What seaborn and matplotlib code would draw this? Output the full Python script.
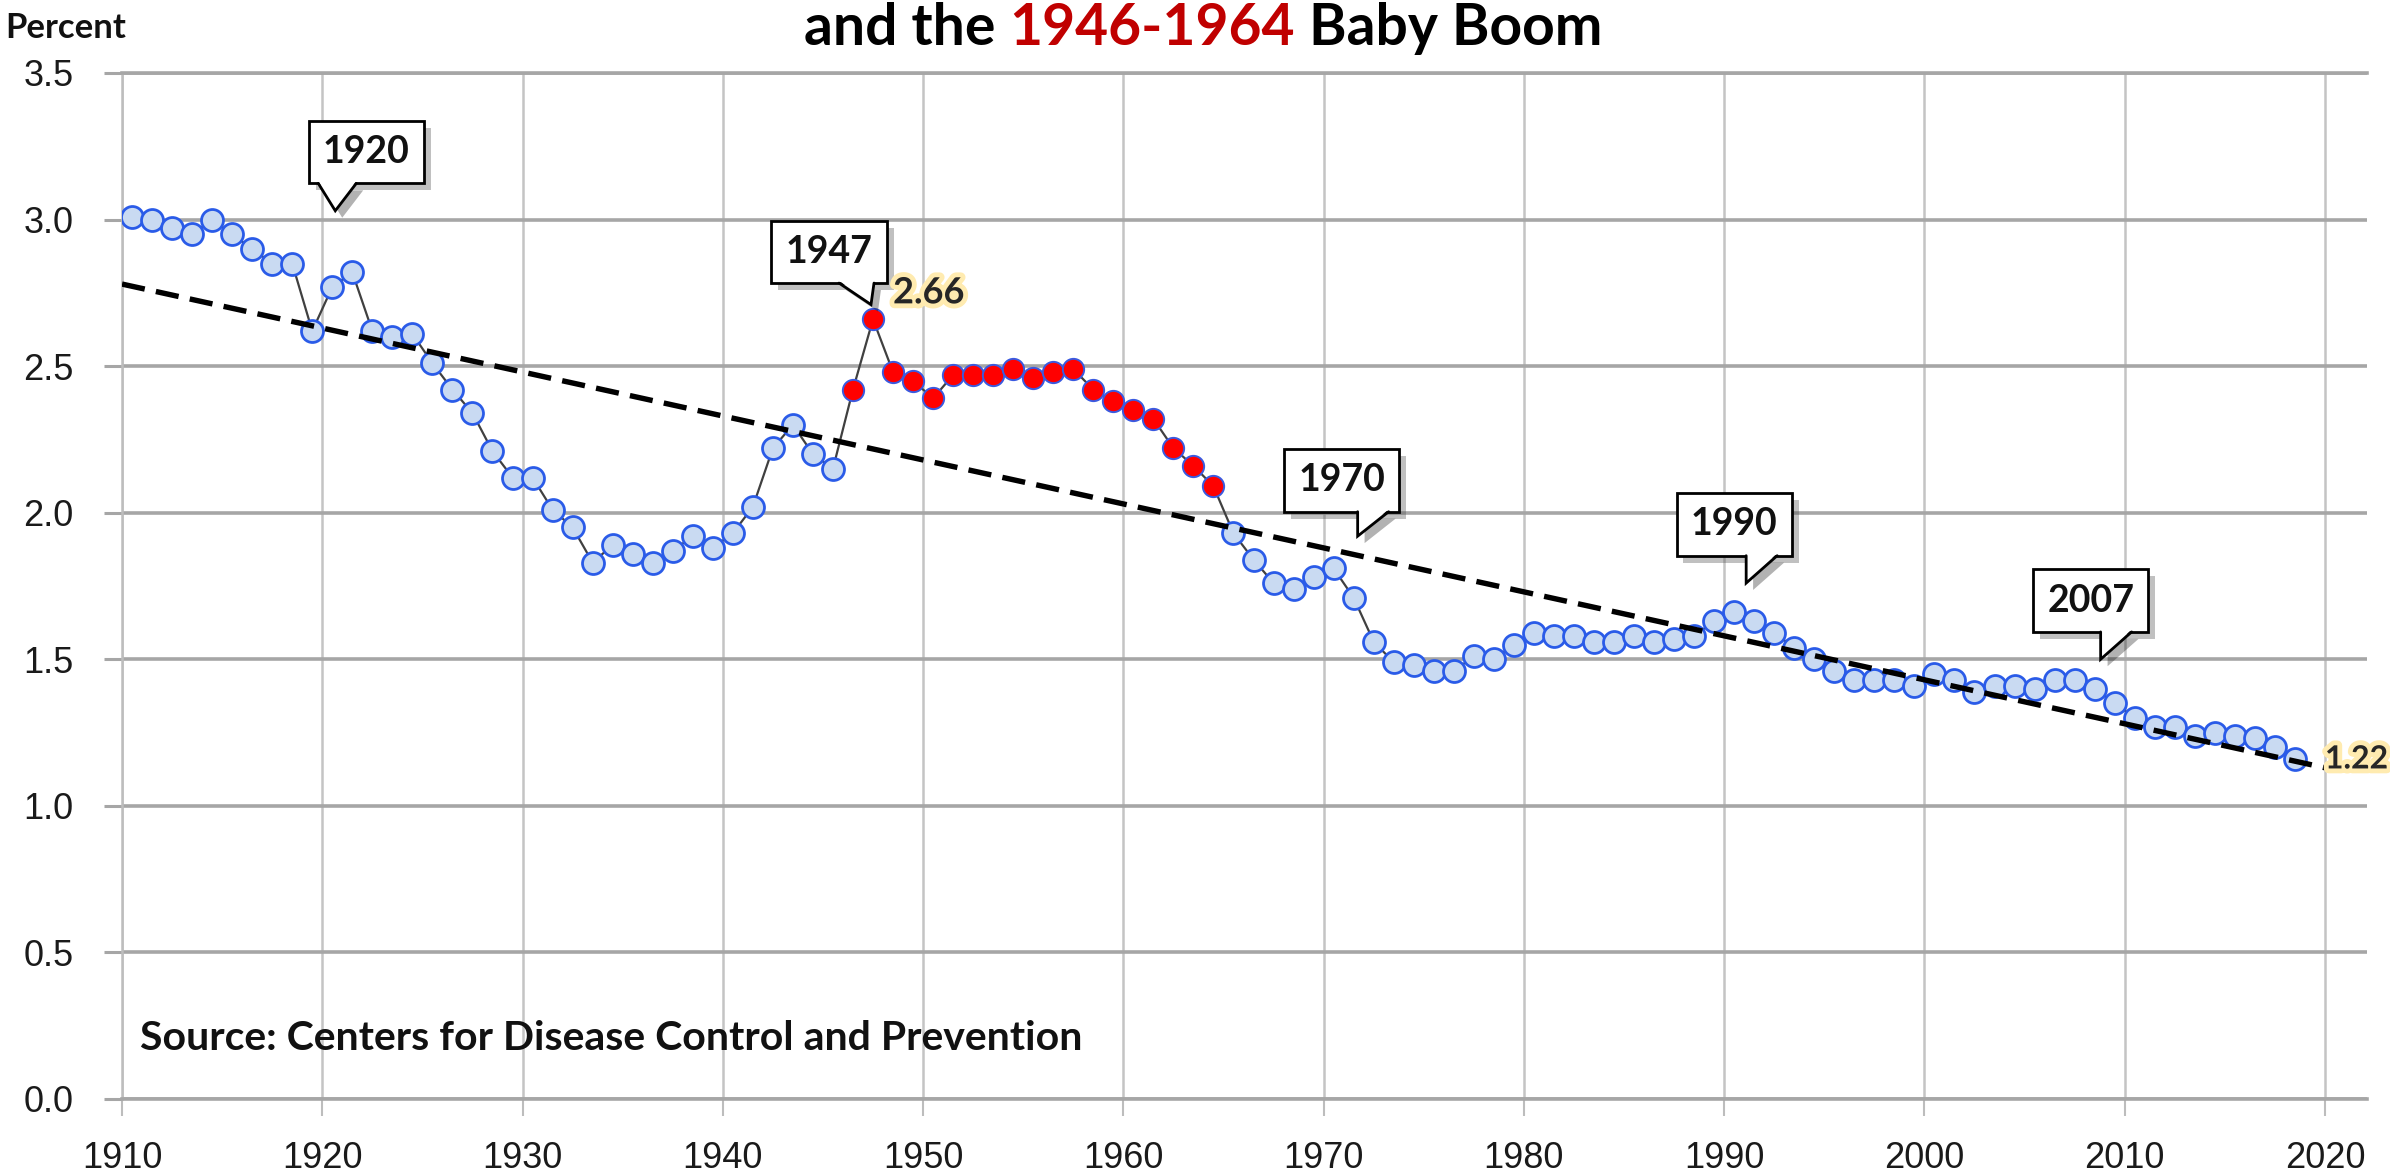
import matplotlib
matplotlib.use("Agg")
import matplotlib.pyplot as plt
import matplotlib.patheffects as pe
from matplotlib.patches import Polygon
from matplotlib.lines import Line2D
from matplotlib.transforms import IdentityTransform
import pandas as pd
import seaborn as sns

# ---------------- data ----------------
years = list(range(1910, 2019))
birth_rate = [
    3.01, 3.00, 2.97, 2.95, 3.00, 2.95, 2.90, 2.85, 2.85, 2.62,   # 1910-1919
    2.77, 2.82, 2.62, 2.60, 2.61, 2.51, 2.42, 2.34, 2.21, 2.12,   # 1920-1929
    2.12, 2.01, 1.95, 1.83, 1.89, 1.86, 1.83, 1.87, 1.92, 1.88,   # 1930-1939
    1.93, 2.02, 2.22, 2.30, 2.20, 2.15, 2.42, 2.66, 2.48, 2.45,   # 1940-1949
    2.39, 2.47, 2.47, 2.47, 2.49, 2.46, 2.48, 2.49, 2.42, 2.38,   # 1950-1959
    2.35, 2.32, 2.22, 2.16, 2.09, 1.93, 1.84, 1.76, 1.74, 1.78,   # 1960-1969
    1.81, 1.71, 1.56, 1.49, 1.48, 1.46, 1.46, 1.51, 1.50, 1.55,   # 1970-1979
    1.59, 1.58, 1.58, 1.56, 1.56, 1.58, 1.56, 1.57, 1.58, 1.63,   # 1980-1989
    1.66, 1.63, 1.59, 1.54, 1.50, 1.46, 1.43, 1.43, 1.43, 1.41,   # 1990-1999
    1.45, 1.43, 1.39, 1.41, 1.41, 1.40, 1.43, 1.43, 1.40, 1.35,   # 2000-2009
    1.30, 1.27, 1.27, 1.24, 1.25, 1.24, 1.23, 1.20, 1.16,         # 2010-2018
]
boom_first, boom_last = 1946, 1964
trend_years = [1910, 2020]
trend_values = [2.78, 1.13]
x_ticks = list(range(1910, 2021, 10))
y_ticks = [0.0, 0.5, 1.0, 1.5, 2.0, 2.5, 3.0, 3.5]
title_parts = ["and the", "1946-1964", "Baby Boom"]
title_colors = ["black", "#C00000", "black"]
y_label = "Percent"
source_text = "Source: Centers for Disease Control and Prevention"
callout_labels = ["1920", "1947", "1970", "1990", "2007"]
peak_label = "2.66"
end_label = "1.22"

# ---------------- layout (positions only) ----------------
callout_tips = [(1920.65, 3.03), (1947.4, 2.71), (1971.7, 1.92), (1991.1, 1.76), (2008.8, 1.50)]
callout_boxes = [(1922.2, 3.23), (1945.3, 2.89), (1970.9, 2.11), (1990.5, 1.96), (2008.3, 1.70)]
# pointer base extent (pixels left / right of the tip's x)
pointer_base = [(17, 21), (32, 3), (0, 31), (0, 31), (0, 31)]

sns.set_theme(style="white")
plt.rcParams["font.family"] = ["Lato", "DejaVu Sans"]
tick_font = ["Liberation Sans", "DejaVu Sans"]

W, H = 2390, 1175
fig = plt.figure(figsize=(W / 100, H / 100), dpi=100)
ax = fig.add_axes([122 / W, 1 - 1099 / H, (2367 - 122) / W, (1099 - 73) / H])

df = pd.DataFrame({"year": years, "rate": birth_rate})
df["xpos"] = df["year"] + 0.5
df["boom"] = df["year"].between(boom_first, boom_last)

sns.lineplot(data=df, x="xpos", y="rate", color="#404040", linewidth=1.6, ax=ax, zorder=3)
sns.scatterplot(data=df[~df["boom"]], x="xpos", y="rate", s=250, color="#C9DAF2",
                edgecolor="#2A5BE8", linewidth=2.0, ax=ax, zorder=4)
sns.scatterplot(data=df[df["boom"]], x="xpos", y="rate", s=235, color="#FF0000",
                edgecolor="#3A5AE0", linewidth=1.4, ax=ax, zorder=4)
sns.lineplot(x=trend_years, y=trend_values, color="black", linewidth=3.9, ax=ax, zorder=5)
ax.lines[-1].set_linestyle((0, (4.3, 2.1)))

ax.set_xlim(1910, 2022.1)
ax.set_ylim(0, 3.5)
ax.set_xticks(x_ticks)
ax.set_xticklabels([str(t) for t in x_ticks])
ax.set_yticks(y_ticks)
ax.set_yticklabels([f"{v:.1f}" for v in y_ticks])
ax.set_xlabel("")
ax.set_ylabel("")

ax.grid(axis="y", color="#A6A6A6", linewidth=2.6, zorder=0)
ax.grid(axis="x", color="#C4C4C4", linewidth=1.8, zorder=0)
ax.set_axisbelow(True)
for side in ["top", "bottom"]:
    ax.spines[side].set_color("#A6A6A6")
    ax.spines[side].set_linewidth(2.6)
ax.spines["left"].set_color("#BDBDBD")
ax.spines["left"].set_linewidth(1.8)
ax.spines["right"].set_visible(False)

ax.tick_params(axis="x", direction="out", length=12, width=1.5, color="#BDBDBD",
               pad=18, labelsize=26, labelcolor="#1a1a1a", bottom=True)
ax.tick_params(axis="y", direction="out", length=13, width=2.2, color="#A6A6A6",
               pad=22, labelsize=26, labelcolor="#1a1a1a", left=True)
for lab in ax.get_xticklabels() + ax.get_yticklabels():
    lab.set_family(tick_font)

# callout boxes
shadow = [pe.SimplePatchShadow(offset=(5, -5), alpha=0.35), pe.Normal()]
callouts = []
for lab, box in zip(callout_labels, callout_boxes):
    t = ax.text(box[0], box[1], lab, ha="center", va="center", fontsize=27,
                fontweight="bold", color="#111111", zorder=8,
                bbox=dict(boxstyle="square,pad=0.38", fc="white", ec="black", lw=2))
    t.get_bbox_patch().set_path_effects(shadow)
    callouts.append(t)

glow = [pe.withStroke(linewidth=7, foreground="#FFEBB0")]
ax.text(1948.5, 2.75, peak_label, ha="left", va="center", fontsize=26, fontweight="bold",
        path_effects=glow, zorder=9)
ax.text(2020.0, 1.16, end_label, ha="left", va="center", fontsize=23, fontweight="bold",
        path_effects=glow, zorder=9, clip_on=False)

ax.text(1910.9, 0.167, source_text, ha="left", va="baseline", fontsize=29.5,
        fontweight="bold", color="#111111", zorder=9)

fig.text(5 / W, 1 - 38 / H, y_label, ha="left", va="baseline", fontsize=25,
         fontweight="bold", color="#111111")

fig.canvas.draw()
ren = fig.canvas.get_renderer()

# callout pointers (pixel space, attached to the drawn boxes)
ident = IdentityTransform()
sh = 5 * 100 / 72
for t, tip, (a, b) in zip(callouts, callout_tips, pointer_base):
    bb = t.get_bbox_patch().get_window_extent(ren)
    tx, ty = ax.transData.transform(tip)
    yb = bb.y0
    shadow_poly = Polygon([(tx - a + sh, yb - sh), (tx + sh, ty - sh), (tx + b + sh, yb - sh)],
                          closed=True, fc="black", ec="none", alpha=0.3,
                          transform=ident, zorder=7.9)
    fill_poly = Polygon([(tx - a, yb + 2.5), (tx, ty), (tx + b, yb + 2.5)], closed=True,
                        fc="white", ec="none", transform=ident, zorder=8.1)
    edge = Line2D([tx - a, tx, tx + b], [yb, ty, yb], color="black", lw=2,
                  transform=ident, zorder=8.2, solid_joinstyle="miter")
    for art in (shadow_poly, fill_poly, edge):
        fig.add_artist(art)

# multi-coloured title line
tfs = 41
def width_of(s):
    tt = fig.text(0, 0, s, fontsize=tfs, fontweight="bold")
    w = tt.get_window_extent(ren).width
    tt.remove()
    return w
space = width_of("a a") - width_of("aa")
widths = [width_of(s) for s in title_parts]
total = sum(widths) + space * (len(title_parts) - 1)
x0 = 1203 - total / 2
for s, c, w in zip(title_parts, title_colors, widths):
    fig.text(x0 / W, 1 - 45 / H, s, fontsize=tfs, fontweight="bold", color=c,
             ha="left", va="baseline")
    x0 += w + space

fig.savefig("out.png", dpi=100)
